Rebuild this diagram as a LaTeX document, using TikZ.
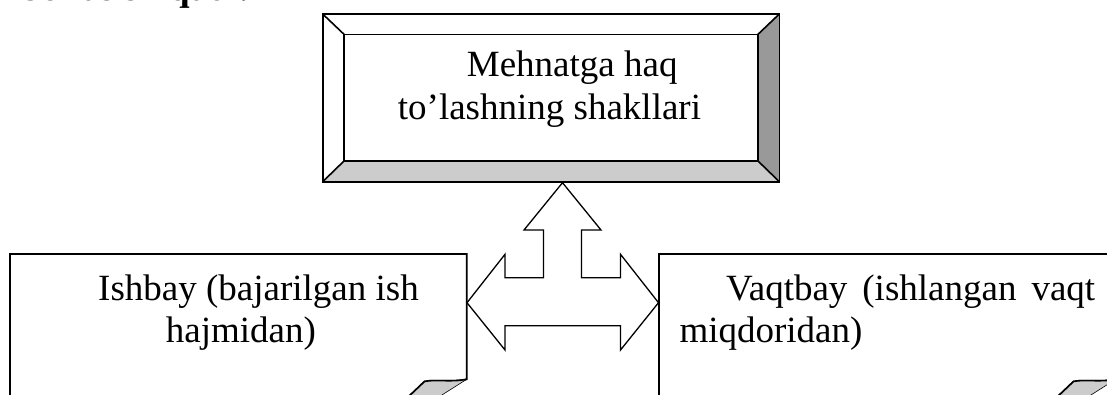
\documentclass[tikz,border=0pt]{standalone}
\usepackage{fontspec}
\setmainfont{Liberation Serif}
\begin{document}
\begin{tikzpicture}[x=1pt,y=-1pt,
  boxline/.style={draw=black,line width=1.6pt},
  arrowline/.style={draw=black,line width=1.3pt,fill=white,line join=miter},
  txt/.style={anchor=base west,inner sep=0pt,font=\fontsize{37}{42}\selectfont},
  foldfill/.style={fill=black!20,draw=black,line width=0.6pt}]
\useasboundingbox (0,0) rectangle (1107,394);
\clip (0,0) rectangle (1107,394);

% cut-off line of text at the top
\node[anchor=base east,inner sep=0pt,font=\fontsize{37}{42}\selectfont\bfseries] (cut) at (249,0.5) {bo’las shiqadi.};

% top bevelled box
\coordinate (oNW) at (322.7,14);
\coordinate (oSE) at (779.3,181.7);
\coordinate (iNW) at (344,34.3);
\coordinate (iSE) at (758,161);
\node[inner sep=0pt,minimum width=456.6pt,minimum height=167.7pt] (topbox) at (551,97.85) {};
\fill[white] (oNW) rectangle (oSE);
\fill[black!20] (oNW |- oSE) -- (oSE) -- (iSE) -- (iNW |- iSE) -- cycle;
\fill[black!40] (oSE) -- (oSE |- oNW) -- (iSE |- iNW) -- (iSE) -- cycle;
\draw[boxline] (oNW) rectangle (oSE);
\draw[boxline] (iNW) rectangle (iSE);
\draw[boxline] (oNW) -- (iNW);
\draw[boxline] (oSE |- oNW) -- (iSE |- iNW);
\draw[boxline] (oSE) -- (iSE);
\draw[boxline] (oNW |- oSE) -- (iNW |- iSE);
\node[txt] (top1) at (466.7,76.7) {Mehnatga haq};
\node[txt] (top2) at (397.7,119) {to’lashning shakllari};

% left page box
\draw[boxline,fill=white] (10,420) -- (10,254) -- (466.7,254) -- (466.7,379.3)
   .. controls (450,382.5) and (436,379) .. (424.5,381.5) -- (405,400);
\fill[black!20] (424.5,381.5) .. controls (436,379) and (450,382.5) .. (466.7,379.3) -- (434,400) -- (405,400) -- cycle;
\draw[line width=1.6pt] (466.7,379.3) .. controls (450,382.5) and (436,379) .. (424.5,381.5) -- (405,400);
\draw[line width=0.6pt] (466.7,379.3) -- (434,400);
\node[txt] (left1) at (98,300) {Ishbay (bajarilgan ish};
\node[txt] (left2) at (165.7,342) {hajmidan)};

% right page box
\begin{scope}[xshift=649pt]
\draw[boxline,fill=white] (10,420) -- (10,254) -- (466.7,254) -- (466.7,379.3)
   .. controls (450,382.5) and (436,379) .. (424.5,381.5) -- (405,400);
\fill[black!20] (424.5,381.5) .. controls (436,379) and (450,382.5) .. (466.7,379.3) -- (434,400) -- (405,400) -- cycle;
\draw[line width=1.6pt] (466.7,379.3) .. controls (450,382.5) and (436,379) .. (424.5,381.5) -- (405,400);
\draw[line width=0.6pt] (466.7,379.3) -- (434,400);
\end{scope}
\node[txt] (right1) at (726,300) {\makebox[369pt][s]{Vaqtbay (ishlangan vaqt}};
\node[txt] (right2) at (679.3,342) {miqdoridan)};

% three-way block arrow
\draw[arrowline] (562.5,182.7) -- (601,230) -- (581.5,230) -- (581.5,277.7)
  -- (620.5,277.7) -- (620.5,254.3) -- (658.5,302.7) -- (620.5,350)
  -- (620.5,325.7) -- (505,325.7) -- (505,350) -- (467,302.7)
  -- (505,254.3) -- (505,277.7) -- (543.5,277.7) -- (543.5,230)
  -- (524,230) -- cycle;
\end{tikzpicture}
\end{document}
